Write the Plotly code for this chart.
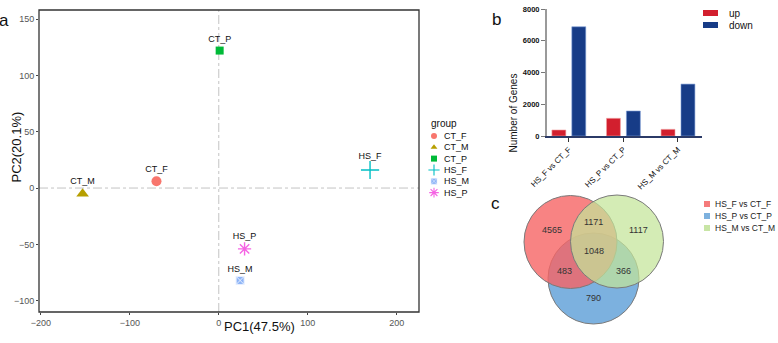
import plotly.graph_objects as go

W, H = 778, 343
FONT = "Liberation Sans, Arial, sans-serif"

# ---------------- Panel a: PCA ----------------
groups = ["CT_F", "CT_M", "CT_P", "HS_F", "HS_M", "HS_P"]
pc1 = [-70, -153, 1, 170, 24, 29]
pc2 = [6, -5, 122, 16, -82, -54]
pc1_label = "PC1(47.5%)"
pc2_label = "PC2(20.1%)"
pc_x_ticks = [-200, -100, 0, 100, 200]
pc_y_ticks = [-100, -50, 0, 50, 100, 150]

# ---------------- Panel b: DEG counts ----------------
comparisons = ["HS_F vs CT_F", "HS_P vs CT_P", "HS_M vs CT_M"]
up_counts = [380, 1115, 420]
down_counts = [6880, 1575, 3270]
deg_ticks = [0, 2000, 4000, 6000, 8000]

# ---------------- Panel c: Venn ----------------
venn_sets = ["HS_F vs CT_F", "HS_P vs CT_P", "HS_M vs CT_M"]
venn_regions = ["F", "F&M", "M", "F&P&M", "F&P", "P&M", "P"]
venn_counts = [4565, 1171, 1117, 1048, 483, 366, 790]

# ---------------- styles / layout constants ----------------
group_colors = ["#F8766D", "#B79F00", "#00BA38", "#00BFC4", "#619CFF", "#F564E3"]
group_symbols = ["circle", "triangle-up", "square", "cross-thin-open", "square-x", "asterisk-open"]
group_sizes = [10, 11, 8, 13, 8, 11]
up_color, down_color = "#d21f2e", "#173c87"
venn_fill = {"HS_F vs CT_F": "rgba(246,100,100,0.80)",
             "HS_P vs CT_P": "rgba(110,168,220,0.90)",
             "HS_M vs CT_M": "rgba(196,228,152,0.72)"}
venn_swatch = {"HS_F vs CT_F": "#f57b7b", "HS_P vs CT_P": "#7db1de", "HS_M vs CT_M": "#c8e5a5"}
# circle geometry in pixel space (center x, center y, radius)
venn_geom = {"HS_F vs CT_F": (570.5, 242, 46.5),
             "HS_P vs CT_P": (593.5, 278.5, 45.5),
             "HS_M vs CT_M": (617, 241.5, 46.5)}
venn_draw_order = ["HS_P vs CT_P", "HS_F vs CT_F", "HS_M vs CT_M"]
venn_text_pos = {"F": (552, 230), "F&M": (593, 222), "M": (638, 230), "F&P&M": (594, 251),
                 "F&P": (564, 271), "P&M": (623, 271), "P": (593, 298)}


def fx(px):
    return px / W


def fy(py):
    return 1 - py / H


fig = go.Figure()

# PCA points
for g, x, y, c, s, sz in zip(groups, pc1, pc2, group_colors, group_symbols, group_sizes):
    if s == "square-x":
        marker = dict(color="#8db4f7", symbol=s, size=sz, line=dict(color="#e8f0ff", width=1))
    elif s.endswith("open"):
        marker = dict(color=c, symbol=s, size=sz, line=dict(color=c, width=1.4))
    else:
        marker = dict(color=c, symbol=s, size=sz, line=dict(width=0))
    fig.add_trace(go.Scatter(x=[x], y=[y], mode="markers+text", text=[g],
                             textposition="top center",
                             textfont=dict(size=9, color="#111", family=FONT),
                             marker=marker, showlegend=False, xaxis="x", yaxis="y",
                             cliponaxis=False))

# DEG bars
fig.add_trace(go.Bar(x=comparisons, y=up_counts, name="up", marker=dict(color=up_color, line=dict(color="#f2a3a3", width=0.6)),
                     xaxis="x2", yaxis="y2", showlegend=False))
fig.add_trace(go.Bar(x=comparisons, y=down_counts, name="down", marker=dict(color=down_color, line=dict(color="#7f9fd8", width=0.6)),
                     xaxis="x2", yaxis="y2", showlegend=False))

# Legend markers for group legend (pixel overlay)
leg_y = [136, 147.3, 158.6, 170, 181.3, 192.6]
for g, c, s, ly in zip(groups, group_colors, group_symbols, leg_y):
    if s == "square-x":
        marker = dict(color="#8db4f7", symbol=s, size=6, line=dict(color="#e8f0ff", width=0.6))
    elif s.endswith("open"):
        marker = dict(color=c, symbol=s, size=8, line=dict(color=c, width=1.1))
    else:
        marker = dict(color=c, symbol=s, size=6, line=dict(width=0))
    fig.add_trace(go.Scatter(x=[434], y=[ly], mode="markers", marker=marker,
                             showlegend=False, xaxis="x3", yaxis="y3", hoverinfo="skip"))

shapes = []
annotations = []

# Panel a frame & reference lines
shapes.append(dict(type="line", xref="x", yref="y domain", x0=0, x1=0, y0=0, y1=1,
                   line=dict(color="#c4c4c4", width=1, dash="dashdot"), layer="below"))
shapes.append(dict(type="line", xref="x domain", yref="y", x0=0, x1=1, y0=0, y1=0,
                   line=dict(color="#c4c4c4", width=1, dash="dashdot"), layer="below"))
shapes.append(dict(type="rect", xref="x domain", yref="y domain", x0=0, x1=1, y0=0, y1=1,
                   line=dict(color="#333", width=1.3), layer="above"))

# Venn circles
for name in venn_draw_order:
    cx, cy, r = venn_geom[name]
    shapes.append(dict(type="circle", xref="x3", yref="y3", x0=cx - r, x1=cx + r, y0=cy - r, y1=cy + r,
                       fillcolor=venn_fill[name], line=dict(color="#7a7a7a", width=1), layer="above"))
for reg, cnt in zip(venn_regions, venn_counts):
    px, py = venn_text_pos[reg]
    annotations.append(dict(x=px, y=py, xref="x3", yref="y3", text=str(cnt), showarrow=False,
                            font=dict(size=9, color="#333", family=FONT)))

# Venn legend
for i, name in enumerate(venn_sets):
    yy = 204 + 12 * i
    shapes.append(dict(type="rect", xref="x3", yref="y3", x0=704, x1=710, y0=yy - 3, y1=yy + 3,
                       fillcolor=venn_swatch[name], line=dict(width=0)))
    annotations.append(dict(x=713, y=yy, xref="x3", yref="y3", text=name, showarrow=False, xanchor="left",
                            font=dict(size=8.5, color="#222", family=FONT)))

# Bar legend
for i, (nm, col) in enumerate([("up", up_color), ("down", down_color)]):
    yy = 13 + 12 * i
    shapes.append(dict(type="rect", xref="x3", yref="y3", x0=703, x1=718, y0=yy - 3, y1=yy + 3,
                       fillcolor=col, line=dict(width=0)))
    annotations.append(dict(x=727, y=yy, xref="x3", yref="y3", text=nm, showarrow=False, xanchor="left",
                            font=dict(size=10, color="#111", family=FONT)))

# Group legend text
annotations.append(dict(x=429, y=123, xref="x3", yref="y3", text="group", showarrow=False, xanchor="left",
                        font=dict(size=10, color="#111", family=FONT)))
for g, ly in zip(groups, leg_y):
    annotations.append(dict(x=442, y=ly, xref="x3", yref="y3", text=g, showarrow=False, xanchor="left",
                            font=dict(size=9, color="#111", family=FONT)))

# Axis titles
annotations.append(dict(x=fx(222), y=fy(336), xref="paper", yref="paper", text=pc1_label, showarrow=False,
                        font=dict(size=13, color="#111", family=FONT)))
annotations.append(dict(x=fx(6), y=fy(147), xref="paper", yref="paper", text=pc2_label, showarrow=False,
                        textangle=-90, font=dict(size=13, color="#111", family=FONT)))
annotations.append(dict(x=fx(513), y=fy(72), xref="paper", yref="paper", text="Number of Genes", showarrow=False,
                        textangle=-90, font=dict(size=10, color="#111", family=FONT)))

# Panel letters
for letter, px, py in [("a", 4, 9), ("b", 496, 8), ("c", 495, 203)]:
    annotations.append(dict(x=fx(px), y=fy(py), xref="paper", yref="paper", text=letter, showarrow=False,
                            xanchor="center", font=dict(size=17, color="#111", family=FONT)))

fig.update_layout(
    width=W, height=H, margin=dict(l=0, r=0, t=0, b=0, autoexpand=False),
    paper_bgcolor="white", plot_bgcolor="rgba(0,0,0,0)",
    font=dict(family=FONT),
    showlegend=False,
    barmode="group", bargap=0.27, bargroupgap=0.3,
    xaxis=dict(domain=[fx(39), fx(419)], range=[-202, 225], tickvals=pc_x_ticks, automargin=False,
               showgrid=False, zeroline=False, showline=False, ticks="outside", ticklen=2,
               tickcolor="#444", tickfont=dict(size=9, color="#555"), anchor="y"),
    yaxis=dict(domain=[fy(312), fy(10)], range=[-110, 158], tickvals=pc_y_ticks, automargin=False,
               showgrid=False, zeroline=False, showline=False, ticks="outside", ticklen=2,
               tickcolor="#444", tickfont=dict(size=9, color="#555"), anchor="x"),
    xaxis2=dict(domain=[fx(547), fx(702)], range=[-0.4, 2.44], type="category", automargin=False,
                showgrid=False, zeroline=False, showline=True, linecolor="#2b3a67", linewidth=1.5,
                ticks="outside", ticklen=4, tickcolor="#333", tickangle=-45,
                tickfont=dict(size=8, color="#111"), anchor="y2"),
    yaxis2=dict(domain=[fy(136), fy(9)], range=[0, 8000], tickvals=deg_ticks, automargin=False,
                showgrid=False, zeroline=False, showline=True, linecolor="#9a9a9a", linewidth=2,
                ticks="outside", ticklen=4, tickcolor="#777",
                tickfont=dict(size=7.5, color="#111", weight="bold"), anchor="x2"),
    xaxis3=dict(domain=[0, 1], range=[0, W], visible=False, anchor="y3", automargin=False),
    yaxis3=dict(domain=[0, 1], range=[H, 0], visible=False, anchor="x3", automargin=False),
    shapes=shapes, annotations=annotations,
)

fig.write_html("out.html", config={"displayModeBar": False},
               post_script="document.body.style.margin='0';document.body.style.padding='0';"
                           "document.body.style.overflow='hidden';")
